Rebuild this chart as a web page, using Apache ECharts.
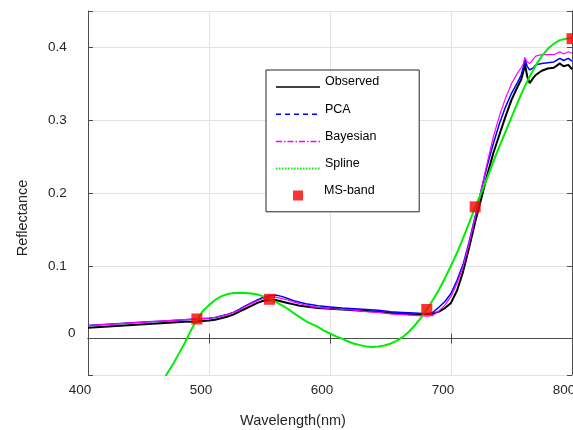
<!DOCTYPE html>
<html>
<head>
<meta charset="utf-8">
<script src="https://cdn.jsdelivr.net/npm/echarts@6/dist/echarts.min.js"></script>
<style>
  html, body { margin: 0; padding: 0; background: #fff; }
  #chart { width: 573px; height: 430px; }
</style>
</head>
<body>
<div id="chart"></div>
<script>
// wavelengths (nm) shared by the three reconstructed spectra
const wl = [400, 410, 420, 430, 440, 450, 460, 470, 480, 490, 500, 505, 510, 515, 520, 525, 530, 535, 540, 545,
  550, 555, 560, 565, 570, 575, 580, 590, 600, 610, 620, 630, 640, 650, 660, 670, 680, 685, 690, 695,
  700, 705, 710, 715, 720, 725, 730, 735, 740, 745, 750, 755, 758, 760, 761, 763, 765, 768, 770, 775,
  780, 785, 790, 793, 797, 800];

const observed = [0.015, 0.016, 0.017, 0.018, 0.019, 0.020, 0.021, 0.022, 0.023, 0.0235, 0.025, 0.026, 0.028, 0.030, 0.033, 0.037, 0.041, 0.045, 0.049, 0.052,
  0.053, 0.053, 0.051, 0.049, 0.047, 0.045, 0.044, 0.042, 0.041, 0.040, 0.039, 0.038, 0.037, 0.035, 0.034, 0.033, 0.033, 0.034, 0.037, 0.042,
  0.049, 0.066, 0.092, 0.125, 0.160, 0.192, 0.225, 0.255, 0.280, 0.305, 0.328, 0.346, 0.356, 0.368, 0.378, 0.360, 0.351, 0.358, 0.362, 0.368,
  0.371, 0.372, 0.378, 0.374, 0.376, 0.370];

const pca = [0.018, 0.019, 0.020, 0.021, 0.022, 0.023, 0.024, 0.025, 0.026, 0.027, 0.028, 0.029, 0.031, 0.033, 0.036, 0.040, 0.045, 0.049, 0.053, 0.057,
  0.059, 0.060, 0.058, 0.055, 0.052, 0.050, 0.048, 0.045, 0.0435, 0.042, 0.041, 0.040, 0.039, 0.037, 0.036, 0.035, 0.034, 0.036, 0.043, 0.051,
  0.062, 0.080, 0.102, 0.133, 0.168, 0.204, 0.238, 0.268, 0.295, 0.318, 0.337, 0.352, 0.362, 0.374, 0.384, 0.374, 0.369, 0.372, 0.376, 0.378,
  0.379, 0.380, 0.385, 0.382, 0.385, 0.381];

const bayesian = [0.018, 0.019, 0.020, 0.021, 0.022, 0.023, 0.024, 0.025, 0.026, 0.027, 0.028, 0.029, 0.031, 0.033, 0.036, 0.039, 0.044, 0.048, 0.052, 0.055,
  0.057, 0.057, 0.055, 0.053, 0.050, 0.048, 0.046, 0.043, 0.041, 0.040, 0.039, 0.037, 0.036, 0.034, 0.033, 0.032, 0.031, 0.032, 0.038, 0.046,
  0.058, 0.076, 0.099, 0.131, 0.167, 0.205, 0.242, 0.277, 0.306, 0.330, 0.350, 0.365, 0.372, 0.378, 0.386, 0.380, 0.378, 0.384, 0.388, 0.390,
  0.390, 0.390, 0.394, 0.391, 0.394, 0.392];

// spline curve through the MS bands
const splineWl = [460, 465, 470, 475, 480, 485, 490, 495, 500, 505, 510, 515, 520, 525, 530, 535, 540, 545, 550, 555,
  560, 565, 570, 575, 580, 585, 590, 595, 600, 605, 610, 615, 620, 625, 630, 635, 640, 645, 650, 655,
  660, 665, 670, 675, 680, 685, 690, 695, 700, 705, 710, 715, 720, 725, 730, 735, 740, 745, 750, 755,
  760, 765, 770, 775, 780, 785, 790, 795, 800];
const spline = [-0.068, -0.049, -0.036, -0.021, -0.006, 0.011, 0.026, 0.038, 0.046, 0.053, 0.058, 0.061, 0.0625, 0.063, 0.0627, 0.062, 0.0605, 0.058, 0.054, 0.0505,
  0.046, 0.041, 0.035, 0.0295, 0.024, 0.020, 0.016, 0.011, 0.007, 0.003, 0.000, -0.004, -0.007, -0.009, -0.011, -0.0115, -0.011, -0.0095, -0.007, -0.003,
  0.002, 0.009, 0.018, 0.028, 0.040, 0.053, 0.067, 0.083, 0.100, 0.118, 0.138, 0.159, 0.181, 0.200, 0.221, 0.243, 0.264, 0.284, 0.304, 0.324,
  0.343, 0.360, 0.375, 0.388, 0.398, 0.405, 0.410, 0.412, 0.413];

const msWl = [490, 550, 680, 720, 800];
const msBand = [0.027, 0.054, 0.040, 0.181, 0.412];

const zip = (xs, ys) => xs.map((x, i) => [x, ys[i]]);

const font = "'Liberation Sans', Arial, sans-serif";
const axisColor = '#4d4d4d';
const textColor = '#262626';
const hideDot = { opacity: 0 };

const chart = echarts.init(document.getElementById('chart'));

chart.setOption({
  animation: false,
  backgroundColor: '#fff',
  grid: { left: 88, right: 1, top: 11, bottom: 55, outerBoundsMode: 'none', containLabel: false },
  xAxis: [
    {
      type: 'value', min: 400, max: 800, interval: 100,
      name: 'Wavelength(nm)', nameLocation: 'middle', nameGap: 38,
      nameTextStyle: { fontFamily: font, fontSize: 14.5, color: textColor, padding: [0, 74, 0, 0] },
      axisLine: { lineStyle: { color: axisColor } },
      axisTick: { inside: true, length: 5, lineStyle: { color: axisColor } },
      axisLabel: { fontFamily: font, fontSize: 13.5, color: textColor, margin: 8, padding: [0, 16, 0, 0] },
      splitLine: { lineStyle: { color: '#e3e3e3' } }
    },
    {
      type: 'value', position: 'top', min: 400, max: 800, interval: 100,
      axisLine: { show: true, lineStyle: { color: axisColor } },
      axisTick: { inside: true, length: 5, lineStyle: { color: axisColor } },
      axisLabel: { show: false }, splitLine: { show: false }
    }
  ],
  yAxis: [
    {
      type: 'value', min: -0.05, max: 0.45, splitNumber: 5, minInterval: 0.1, maxInterval: 0.1,
      name: 'Reflectance', nameLocation: 'middle', nameGap: 58,
      nameTextStyle: { fontFamily: font, fontSize: 14.5, color: textColor, padding: [0, 50, 0, 0] },
      axisLine: { show: true, lineStyle: { color: axisColor } },
      axisTick: { show: true, inside: true, length: 5, lineStyle: { color: axisColor } },
      axisLabel: {
        align: 'left', margin: 40,
        formatter: v => {
          if (v < -0.001 || v > 0.401) return '';
          if (Math.abs(v) < 1e-9) return '{z|0}';
          return '{n|' + v.toFixed(1) + '}';
        },
        rich: {
          n: { fontFamily: font, fontSize: 13.5, color: textColor },
          z: { fontFamily: font, fontSize: 13.5, color: textColor, padding: [0, 0, 10, 20] }
        }
      },
      splitLine: { lineStyle: { color: '#e3e3e3' } }
    },
    {
      type: 'value', position: 'right', min: -0.05, max: 0.45, splitNumber: 5, minInterval: 0.1, maxInterval: 0.1,
      axisLine: { show: true, lineStyle: { color: axisColor } },
      axisTick: { show: true, inside: true, length: 5, lineStyle: { color: axisColor } },
      axisLabel: { show: false }, splitLine: { show: false }
    }
  ],
  legend: [
    {
      left: 266, top: 70, orient: 'vertical', selectedMode: false,
      itemWidth: 44, itemHeight: 14, itemGap: 10.1,
      padding: [5.5, 40, 37.6, 9],
      borderColor: '#262626', borderWidth: 1, backgroundColor: '#fff',
      formatter: name => '{t|' + name + '}',
      textStyle: {
        fontFamily: font, fontSize: 12.5, color: '#000',
        rich: { t: { fontFamily: font, fontSize: 12.5, color: '#000', padding: [0, 0, 10, 0] } }
      },
      data: [
        { name: 'Observed', itemStyle: hideDot, lineStyle: { type: 'solid', width: 1.5 } },
        { name: 'PCA', itemStyle: hideDot, lineStyle: { type: [5, 4], width: 1.5 } },
        { name: 'Bayesian', itemStyle: hideDot, lineStyle: { type: [6, 2, 1.5, 2], width: 1.5 } },
        { name: 'Spline', itemStyle: hideDot, lineStyle: { type: [1.5, 1.5], width: 2 } }
      ]
    },
    {
      left: 293, top: 184, orient: 'vertical', selectedMode: false, z: 6,
      itemWidth: 10, itemHeight: 10, padding: 0,
      formatter: name => '{t|' + name + '}',
      textStyle: {
        fontFamily: font, fontSize: 12.5, color: '#000',
        rich: { t: { fontFamily: font, fontSize: 12.5, color: '#000', padding: [0, 0, 10, 16] } }
      },
      data: [{ name: 'MS-band', icon: 'rect' }]
    }
  ],
  series: [
    {
      name: 'Observed', type: 'line', symbol: 'none', data: zip(wl, observed),
      lineStyle: { color: '#000', width: 2 }, itemStyle: { color: '#000' }
    },
    {
      name: 'PCA', type: 'line', symbol: 'none', data: zip(wl, pca),
      lineStyle: { color: '#0000ff', width: 1.5 }, itemStyle: { color: '#0000ff' }
    },
    {
      name: 'Bayesian', type: 'line', symbol: 'none', data: zip(wl, bayesian),
      lineStyle: { color: '#ff00ff', width: 1.2 }, itemStyle: { color: '#ff00ff' }
    },
    {
      name: 'Spline', type: 'line', symbol: 'none', data: zip(splineWl, spline),
      lineStyle: { color: '#00ee00', width: 2 }, itemStyle: { color: '#00ee00' }
    },
    {
      name: 'MS-band', type: 'scatter', symbol: 'rect', symbolSize: 11, z: 5,
      data: zip(msWl, msBand), itemStyle: { color: '#ff0000' }
    }
  ]
});
</script>
</body>
</html>
